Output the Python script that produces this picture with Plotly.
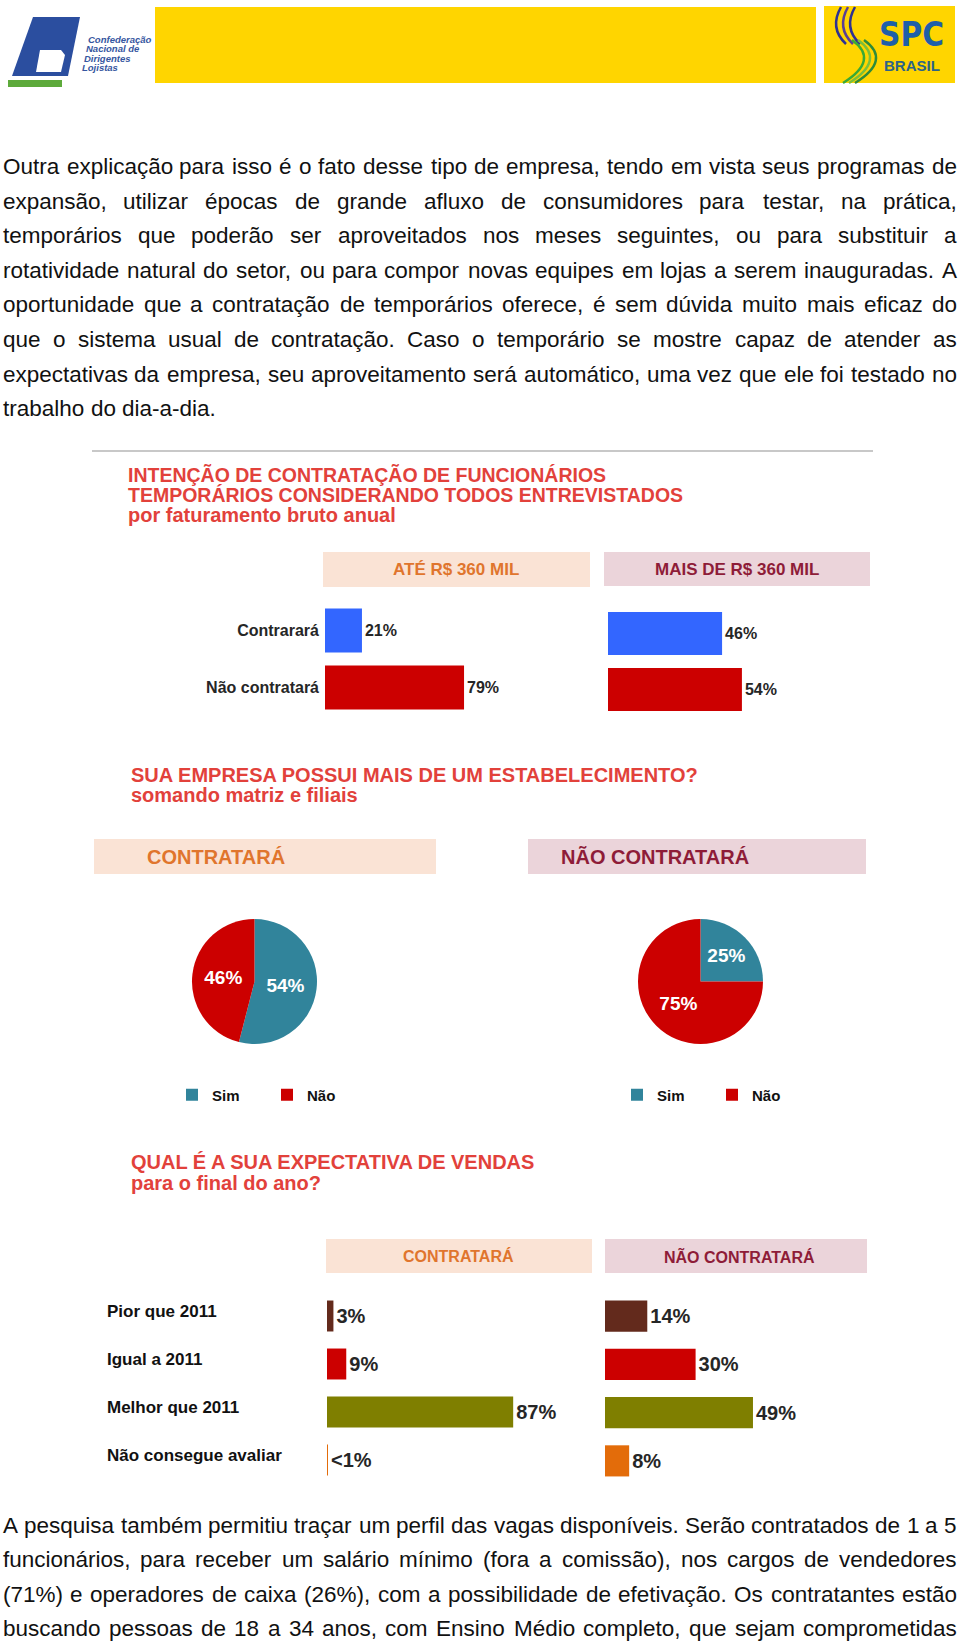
import unicodedata
import plotly.graph_objects as go

W, H = 960, 1646
FONT = "Liberation Sans, Arial, sans-serif"
NARROW = "Liberation Sans Narrow, DejaVu Sans Condensed, Arial Narrow, sans-serif"


def X(px):
    return px / W


def Y(py):
    return 1 - py / H


# ---------------- data ----------------
rev_groups = ["ATÉ R$ 360 MIL", "MAIS DE R$ 360 MIL"]
hire_cats = ["Contrarará", "Não contratará"]
hire_upto_360k = [21, 79]
hire_over_360k = [46, 54]
hire_colors = ["#3366FF", "#CC0000"]

branch_groups = ["CONTRATARÁ", "NÃO CONTRATARÁ"]
branch_labels = ["Sim", "Não"]
branch_hire = [54, 46]
branch_nohire = [25, 75]
branch_colors = ["#31849B", "#CC0000"]

sales_groups = ["CONTRATARÁ", "NÃO CONTRATARÁ"]
sales_cats = ["Pior que 2011", "Igual a 2011", "Melhor que 2011", "Não consegue avaliar"]
sales_hire = [3, 9, 87, 0.3]
sales_nohire = [14, 30, 49, 8]
sales_colors = ["#632A1C", "#CC0000", "#7F7F00", "#E36C0A"]

para_top = [
    "Outra explicação para isso é o fato desse tipo de empresa, tendo em vista seus programas de",
    "expansão, utilizar épocas de grande afluxo de consumidores para testar, na prática,",
    "temporários que poderão ser aproveitados nos meses seguintes, ou para substituir a",
    "rotatividade natural do setor, ou para compor novas equipes em lojas a serem inauguradas. A",
    "oportunidade que a contratação de temporários oferece, é sem dúvida muito mais eficaz do",
    "que o sistema usual de contratação. Caso o temporário se mostre capaz de atender as",
    "expectativas da empresa, seu aproveitamento será automático, uma vez que ele foi testado no",
    "trabalho do dia-a-dia.",
]
para_bottom = [
    "A pesquisa também permitiu traçar um perfil das vagas disponíveis. Serão contratados de 1 a 5",
    "funcionários, para receber um salário mínimo (fora a comissão), nos cargos de vendedores",
    "(71%) e operadores de caixa (26%), com a possibilidade de efetivação. Os contratantes estão",
    "buscando pessoas de 18 a 34 anos, com Ensino Médio completo, que sejam comprometidas",
]


def pct(v):
    return "&lt;1%" if v < 1 else f"{v}%"


# ---------------- text metrics (Arial-compatible) ----------------
AW = {' ': 278, '!': 278, '%': 889, '(': 333, ')': 333, ',': 278, '-': 333, '.': 278,
      '?': 556, ':': 278, '$': 556}
for d in "0123456789":
    AW[d] = 556
AW.update(dict(zip("ABCDEFGHIJKLMNOPQRSTUVWXYZ",
                   [667, 667, 722, 722, 667, 611, 778, 722, 278, 500, 667, 556, 833, 722, 778,
                    667, 778, 722, 667, 611, 722, 667, 944, 667, 667, 611])))
AW.update(dict(zip("abcdefghijklmnopqrstuvwxyz",
                   [556, 556, 500, 556, 556, 278, 556, 556, 222, 222, 500, 222, 833, 556, 556,
                    556, 556, 333, 500, 278, 556, 500, 722, 500, 500, 500])))


def cw(ch):
    if ch in AW:
        return AW[ch]
    if ch == "í":
        return 278
    base = unicodedata.normalize("NFD", ch)[0]
    return AW.get(base, 556)


def tw(s, size):
    return sum(cw(c) for c in s) * size / 1000.0


annotations = []
shapes = []

L_EDGE, R_EDGE = 3, 957


def fit_size(lines, maxsize):
    best = maxsize
    for ln in lines:
        units = sum(cw(c) for c in ln)
        best = min(best, (R_EDGE - L_EDGE) * 1000.0 / units)
    return best


def paragraph(lines, y0, dy, size, last_left):
    for i, line in enumerate(lines):
        y = y0 + i * dy
        words = line.split(" ")
        ws = [tw(w, size) for w in words]
        if last_left and i == len(lines) - 1:
            gap = tw(" ", size)
        else:
            gap = (R_EDGE - L_EDGE - sum(ws)) / (len(words) - 1)
        x = L_EDGE
        for w, wd in zip(words, ws):
            annotations.append(dict(
                x=X(x + wd / 2), y=Y(y), xref="paper", yref="paper", text=w,
                xanchor="center", yanchor="middle", showarrow=False,
                font=dict(family=FONT, size=size, color="#111111")))
            x += wd + gap


sz = min(fit_size(para_top[:-1], 22.5), fit_size(para_bottom, 22.5))
paragraph(para_top, 166.5, 34.6, sz, True)
paragraph(para_bottom, 1525, 34.6, sz, False)


def txt(px, py, s, size, color, bold=True, anchor="left", family=FONT, italic=False):
    annotations.append(dict(
        x=X(px), y=Y(py), xref="paper", yref="paper", text=s, xanchor=anchor,
        yanchor="middle", showarrow=False,
        font=dict(family=family, size=size, color=color,
                  weight="bold" if bold else "normal",
                  style="italic" if italic else "normal")))


def rect(x0, y0, x1, y1, color):
    shapes.append(dict(type="rect", xref="paper", yref="paper", x0=X(x0), x1=X(x1),
                       y0=Y(y1), y1=Y(y0), fillcolor=color, line=dict(width=0), layer="below"))


def poly(pts, color):
    d = "M " + " L ".join(f"{X(a):.5f},{Y(b):.5f}" for a, b in pts) + " Z"
    shapes.append(dict(type="path", xref="paper", yref="paper", path=d, fillcolor=color,
                       line=dict(width=0), layer="above"))


def curve(p0, c, p1, color, width):
    d = (f"M {X(p0[0]):.5f},{Y(p0[1]):.5f} Q {X(c[0]):.5f},{Y(c[1]):.5f} "
         f"{X(p1[0]):.5f},{Y(p1[1]):.5f}")
    shapes.append(dict(type="path", xref="paper", yref="paper", path=d,
                       line=dict(color=color, width=width), layer="above"))


# ---------------- header ----------------
rect(155, 7, 816, 83, "#FFD500")
rect(824, 6, 955, 83, "#FFD500")
poly([(33, 17), (80, 17), (68, 76), (12, 76)], "#2B4E9F")
poly([(40, 50), (61, 50), (65, 55), (61, 72), (36, 72)], "#FFFFFF")
poly([(8, 80), (62, 80), (62, 87), (8, 87)], "#5DAA3B")
for k, s in enumerate(["Confederação", "Nacional de", "Dirigentes", "Lojistas"]):
    txt(86 - 2 * k, 39 + 9.6 * k, s, 9.5, "#3556A0", italic=True)
for k, col in enumerate(["#2E3192", "#5B3F94", "#2E3192"]):
    curve((841 + 7 * k, 7), (829 + 7 * k, 28), (846 + 7 * k, 44), col, 2.5)
for k, col in enumerate(["#3AAA35", "#7CBF3A", "#2E8B3A"]):
    curve((852 + 6 * k, 40), (880 + 6 * k, 60), (843 + 6 * k, 83), col, 2.5)
txt(911, 35, "SPC", 33, "#1F5FA8", anchor="center", family=NARROW)
txt(912, 65, "BRASIL", 15, "#2C6388", anchor="center")

# ---------------- chart 1 ----------------
TRED = "#E2413B"
shapes.append(dict(type="line", xref="paper", yref="paper", x0=X(92), x1=X(873),
                   y0=Y(451), y1=Y(451), line=dict(color="#C8C8C8", width=2)))
txt(126, 475, "INTENÇÃO DE CONTRATAÇÃO DE FUNCIONÁRIOS", 19.5, TRED)
txt(126, 495.5, "TEMPORÁRIOS CONSIDERANDO TODOS ENTREVISTADOS", 19.5, TRED)
txt(126, 515, "por faturamento bruto anual", 20, TRED)

PEACH, PINK = "#FAE3D5", "#EBD4DA"
ORANGE_T, WINE_T = "#E0752D", "#8E1C38"
rect(323, 552, 590, 587, PEACH)
rect(604, 552, 870, 586, PINK)
txt(456, 569, rev_groups[0], 17, ORANGE_T, anchor="center")
txt(737, 569, rev_groups[1], 17, WINE_T, anchor="center")

# ---------------- chart 2 ----------------
txt(129, 775, "SUA EMPRESA POSSUI MAIS DE UM ESTABELECIMENTO?", 20, TRED)
txt(129, 795, "somando matriz e filiais", 20, TRED)
rect(94, 839, 436, 874, PEACH)
rect(528, 839, 866, 874, PINK)
txt(216, 857, branch_groups[0], 20, ORANGE_T, anchor="center")
txt(655, 857, branch_groups[1], 20, WINE_T, anchor="center")

# ---------------- chart 3 ----------------
txt(129, 1162, "QUAL É A SUA EXPECTATIVA DE VENDAS", 20, TRED)
txt(129, 1183, "para o final do ano?", 20, TRED)
rect(326, 1239, 592, 1273, PEACH)
rect(605, 1239, 867, 1273, PINK)
txt(458, 1256, sales_groups[0], 16, ORANGE_T, anchor="center")
txt(739, 1256, sales_groups[1], 16, WINE_T, anchor="center")
for c in sales_cats:
    annotations.append(dict(x=X(105), y=c, xref="paper", yref="y3", text=c, xanchor="left",
                            yanchor="middle", yshift=5, showarrow=False,
                            font=dict(family=FONT, size=17, color="#111111", weight="bold")))

fig = go.Figure()

barfont1 = dict(family=FONT, size=16, color="#262626", weight="bold")
barfont3 = dict(family=FONT, size=20, color="#262626", weight="bold")


def hbar(vals, cats, colors, width, font, xa, ya):
    return go.Bar(x=vals, y=cats, orientation="h", marker=dict(color=colors, line=dict(width=0)),
                  width=width, text=[pct(v) for v in vals], textposition="outside",
                  textfont=font, cliponaxis=False, constraintext="none",
                  xaxis=xa, yaxis=ya, showlegend=False, hoverinfo="skip")


fig.add_trace(hbar(hire_upto_360k, hire_cats, hire_colors, 0.77, barfont1, "x", "y"))
fig.add_trace(hbar(hire_over_360k, hire_cats, hire_colors, 0.77, barfont1, "x2", "y2"))
fig.add_trace(hbar(sales_hire, sales_cats, sales_colors, 0.645, barfont3, "x3", "y3"))
fig.add_trace(hbar(sales_nohire, sales_cats, sales_colors, 0.645, barfont3, "x4", "y4"))

piefont = dict(family=FONT, size=19, color="white", weight="bold")


def pie(vals, x0, x1, legend, group):
    return go.Pie(labels=branch_labels, values=vals, sort=False,
                  direction="clockwise", rotation=0,
                  marker=dict(colors=branch_colors, line=dict(width=0)),
                  texttemplate="%{value}%", textposition="inside",
                  insidetextorientation="horizontal", textfont=piefont,
                  domain=dict(x=[X(x0), X(x1)], y=[Y(1044), Y(919)]),
                  legend=legend, legendgroup=group, showlegend=True, hoverinfo="skip")


fig.add_trace(pie(branch_hire, 192, 317, "legend", "left"))
fig.add_trace(pie(branch_nohire, 638, 763, "legend2", "right"))


def hidden_x(d0, d1, rmax, anchor):
    return dict(domain=[X(d0), X(d1)], range=[0, rmax], visible=False, anchor=anchor,
                fixedrange=True)


def cat_y(top, bottom, cats, anchor, show):
    n = len(cats)
    return dict(domain=[Y(bottom), Y(top)], type="category", categoryarray=cats,
                categoryorder="array", range=[n - 0.5, -0.5], showgrid=False, zeroline=False,
                showline=False, ticks="", showticklabels=show, ticklabelstandoff=5,
                tickfont=dict(family=FONT, size=16, color="#262626", weight="bold"),
                anchor=anchor, fixedrange=True)


legend_common = dict(orientation="h", yanchor="middle", xanchor="left",
                     font=dict(family=FONT, size=15, color="#111111", weight="bold"),
                     bgcolor="rgba(0,0,0,0)", itemwidth=30, entrywidth=50,
                     traceorder="normal", itemclick=False, itemdoubleclick=False,
                     visible=True)

fig.update_layout(
    width=W, height=H, margin=dict(l=0, r=0, t=0, b=0),
    paper_bgcolor="white", plot_bgcolor="rgba(0,0,0,0)",
    showlegend=True,
    xaxis=hidden_x(325, 590, (590 - 325) / 1.76, "y"),
    yaxis=cat_y(602, 716, hire_cats, "x", True),
    xaxis2=hidden_x(608, 870, (870 - 608) / 2.48, "y2"),
    yaxis2=cat_y(605.5, 717.5, hire_cats, "x2", False),
    xaxis3=hidden_x(327, 592, (592 - 327) / 2.14, "y3"),
    yaxis3=cat_y(1292, 1484, sales_cats, "x3", False),
    xaxis4=hidden_x(605, 867, (867 - 605) / 3.02, "y4"),
    yaxis4=cat_y(1292, 1485, sales_cats, "x4", False),
    legend=dict(x=X(172), y=Y(1095), **legend_common),
    legend2=dict(x=X(617), y=Y(1095), **legend_common),
    annotations=annotations, shapes=shapes,
)

fig.write_html("out.html")
